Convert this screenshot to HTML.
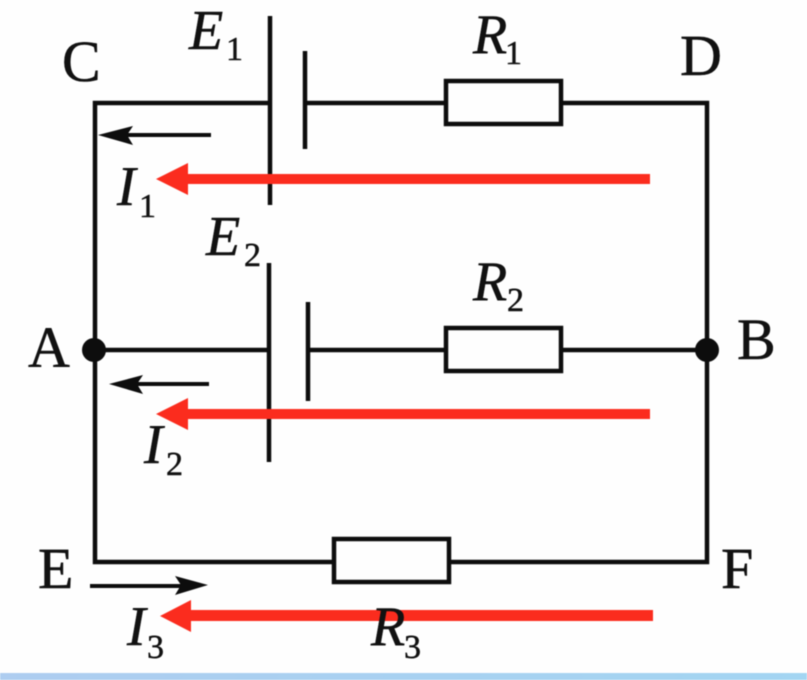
<!DOCTYPE html>
<html>
<head>
<meta charset="utf-8">
<style>
html,body{margin:0;padding:0;background:#fefefe;width:807px;height:680px;overflow:hidden}
svg{display:block;filter:blur(.6px)}
text{font-family:"Liberation Serif",serif;fill:#111;stroke:#111;stroke-width:.5px}
.m{font-size:58px}
.i{font-size:56px;font-style:italic}
.s{font-size:34px}
</style>
</head>
<body>
<svg width="807" height="680" viewBox="0 0 807 680" xmlns="http://www.w3.org/2000/svg">
<defs>
<linearGradient id="bar" x1="0" x2="1" y1="0" y2="0">
<stop offset="0" stop-color="#aecdf0"/>
<stop offset="1" stop-color="#a3d5f2"/>
</linearGradient>
</defs>
<rect width="807" height="680" fill="#fefefe"/>
<rect x="0" y="673" width="807" height="7" fill="url(#bar)"/>

<g fill="none" stroke="#0d0d0d" stroke-width="4.5">
<path d="M270 103H95V562H334"/>
<path d="M305 103H446"/>
<path d="M561 103H707V562H449"/>
<path d="M95 350H269"/>
<path d="M308 350H446"/>
<path d="M561 350H707"/>
<rect x="446" y="81" width="115" height="43" fill="#fefefe"/>
<rect x="446" y="328" width="115" height="43" fill="#fefefe"/>
<rect x="334" y="539" width="115" height="43" fill="#fefefe"/>
<path d="M270 16V205"/>
<path d="M305 51V149"/>
<path d="M269 263V462"/>
<path d="M308 302V401"/>
<path d="M211 135H120" stroke-width="4"/>
<path d="M209 384H130" stroke-width="4"/>
<path d="M90 586H185" stroke-width="4"/>
</g>
<circle cx="94" cy="350" r="12" fill="#0d0d0d"/>
<circle cx="707" cy="350" r="12" fill="#0d0d0d"/>
<path d="M98 135L133 126L127 135L133 145Z" fill="#0d0d0d"/>
<path d="M109 384L143 375L137 384L143 394Z" fill="#0d0d0d"/>
<path d="M208 585L175 576L181 585L175 595Z" fill="#0d0d0d"/>

<g fill="#fb2c1e">
<path d="M650 174H188V163L156 179L188 195V184H650Z"/>
<path d="M650 409H188V398L156 414L188 430V419H650Z"/>
<path d="M653 610H191V600L160 616L191 632V621H653Z"/>
</g>

<text class="m" x="62" y="81">C</text>
<text class="m" x="680" y="75">D</text>
<text class="m" x="28" y="367">A</text>
<text class="m" x="737" y="359">B</text>
<text class="m" x="38" y="588">E</text>
<text class="m" x="721" y="588">F</text>

<text class="i" x="189" y="49">E</text><text class="s" x="226" y="60">1</text>
<text class="i" x="473" y="53">R</text><text class="s" x="505" y="64">1</text>
<text class="i" x="117" y="205">I</text><text class="s" x="139" y="217">1</text>
<text class="i" x="206" y="255">E</text><text class="s" x="244" y="266">2</text>
<text class="i" x="473" y="300">R</text><text class="s" x="507" y="311">2</text>
<text class="i" x="144" y="463">I</text><text class="s" x="166" y="475">2</text>
<text class="i" x="127" y="645">I</text><text class="s" x="147" y="658">3</text>
<text class="i" x="371" y="645">R</text><text class="s" x="404" y="658">3</text>
</svg>
</body>
</html>
